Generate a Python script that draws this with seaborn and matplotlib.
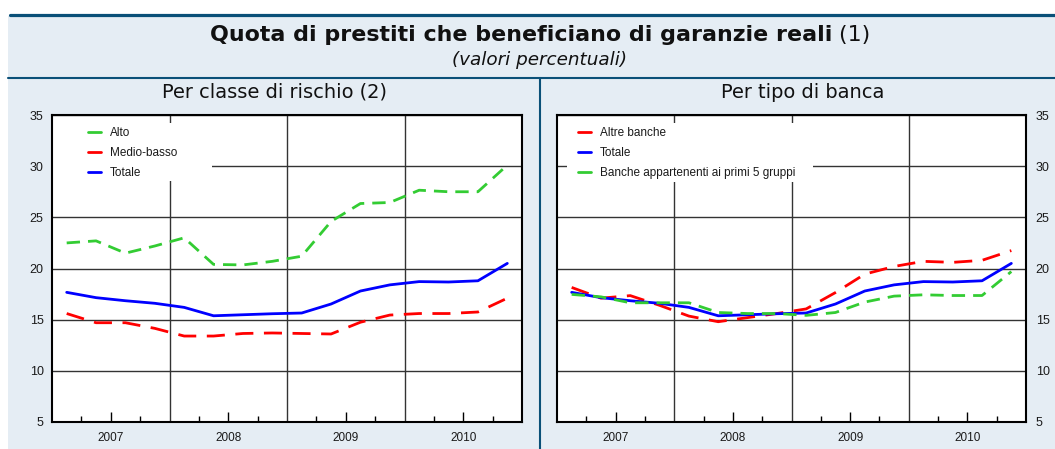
import numpy as np
import pandas as pd
import seaborn as sns
import matplotlib.pyplot as plt
from matplotlib.lines import Line2D
from matplotlib.patches import Rectangle

# Dati trimestrali 2007-2010 (valori percentuali)
trimestri = ['2007T1', '2007T2', '2007T3', '2007T4', '2008T1', '2008T2', '2008T3', '2008T4',
             '2009T1', '2009T2', '2009T3', '2009T4', '2010T1', '2010T2', '2010T3', '2010T4']
anni = ['2007', '2008', '2009', '2010']

alto = [22.5, 22.7, 21.5, 22.2, 23.0, 20.4, 20.35, 20.7, 21.2, 24.6, 26.35, 26.45, 27.65, 27.5, 27.5, 30.1]
medio_basso = [15.6, 14.7, 14.7, 14.15, 13.4, 13.4, 13.65, 13.7, 13.65, 13.6, 14.75, 15.45, 15.6, 15.6, 15.75, 17.1]
totale = [17.67, 17.15, 16.85, 16.6, 16.2, 15.38, 15.48, 15.58, 15.65, 16.53, 17.8, 18.4, 18.72, 18.68, 18.8, 20.5]
altre_banche = [18.15, 17.1, 17.35, 16.4, 15.35, 14.8, 15.2, 15.6, 16.05, 17.65, 19.45, 20.2, 20.7, 20.6, 20.8, 21.75]
primi_5 = [17.47, 17.23, 16.65, 16.65, 16.65, 15.7, 15.6, 15.6, 15.42, 15.7, 16.72, 17.3, 17.43, 17.36, 17.36, 19.7]

ROSSO = '#FF0000'
BLU = '#0000FF'
VERDE = '#33CC33'
SCURO = '#0A5078'
SFONDO = '#E5EDF4'

sns.set_theme(style='white')
plt.rcParams['font.family'] = ['Liberation Sans', 'DejaVu Sans']

W, H = 1055, 449
fig = plt.figure(figsize=(W / 100, H / 100), dpi=100, facecolor='white')

# cornice di sfondo e linee blu
fig.add_artist(Rectangle((8 / W, 0), 1 - 8 / W, 1 - 16 / H, transform=fig.transFigure,
                         fc=SFONDO, ec='none', zorder=-10))
fig.add_artist(Line2D([10 / W, 1], [1 - 14.5 / H] * 2, transform=fig.transFigure, color=SCURO, lw=2.3))
fig.add_artist(Line2D([8 / W, 1], [1 - 78 / H] * 2, transform=fig.transFigure, color=SCURO, lw=1.5))
fig.add_artist(Line2D([540 / W] * 2, [0, 1 - 78 / H], transform=fig.transFigure, color=SCURO, lw=1.5))

x = np.arange(len(trimestri)) + 0.5


def pannello(ax, serie, colori, tratti, lato):
    righe = []
    for nome, valori in serie.items():
        righe.append(pd.DataFrame({'x': x, 'valore': valori, 'serie': nome}))
    df = pd.concat(righe, ignore_index=True)
    sns.lineplot(data=df, x='x', y='valore', hue='serie', style='serie',
                 palette=colori, dashes=tratti, lw=2.0, legend=False, ax=ax, zorder=3)
    ax.set_facecolor('white')
    ax.set_xlim(0, 16)
    ax.set_ylim(5, 35)
    ax.set_yticks(range(5, 40, 5))
    ax.set_xticks([2, 6, 10, 14])
    ax.set_xticklabels(anni)
    ax.set_xticks([1, 3, 5, 7, 9, 11, 13, 15], minor=True)
    ax.set_xlabel('')
    ax.set_ylabel('')
    ax.grid(axis='y', color='#333333', lw=1.0)
    ax.grid(axis='x', visible=False)
    for xv in [4, 8, 12]:
        ax.axvline(xv, color='#333333', lw=1.0, zorder=0.5)
    ax.set_axisbelow(True)
    for s in ax.spines.values():
        s.set_color('black')
        s.set_linewidth(1.5)
        s.set_visible(True)
    ax.tick_params(axis='x', which='major', direction='in', length=7.5, width=1,
                   color='black', pad=7, labelsize=8.5, labelcolor='#1a1a1a')
    ax.tick_params(axis='x', which='minor', direction='in', length=4, width=1, color='black')
    ax.tick_params(axis='x', which='both', bottom=True, top=False)
    if lato == 'right':
        ax.yaxis.tick_right()
        ax.tick_params(axis='y', length=0, pad=7, labelsize=9, labelcolor='#1a1a1a')
    else:
        ax.tick_params(axis='y', length=0, pad=6, labelsize=9, labelcolor='#1a1a1a')


ax1 = fig.add_axes([52 / W, 1 - 422 / H, 470 / W, 307 / H])
ax2 = fig.add_axes([557 / W, 1 - 422 / H, 469 / W, 307 / H])

serie1 = {'Alto': alto, 'Medio-basso': medio_basso, 'Totale': totale}
colori1 = {'Alto': VERDE, 'Medio-basso': ROSSO, 'Totale': BLU}
tratti1 = {'Alto': (4.8, 2.9), 'Medio-basso': (6.5, 3.8), 'Totale': ''}
pannello(ax1, serie1, colori1, tratti1, 'left')

serie2 = {'Altre banche': altre_banche, 'Totale': totale,
          'Banche appartenenti ai primi 5 gruppi': primi_5}
colori2 = {'Altre banche': ROSSO, 'Totale': BLU, 'Banche appartenenti ai primi 5 gruppi': VERDE}
tratti2 = {'Altre banche': (6.5, 3.8), 'Totale': '', 'Banche appartenenti ai primi 5 gruppi': (4.8, 2.9)}
pannello(ax2, serie2, colori2, tratti2, 'right')

# legende su riquadro bianco
ax1.add_patch(Rectangle((0, 1 - 66 / 307), 160 / 470, 58 / 307, transform=ax1.transAxes,
                        fc='white', ec='none', zorder=1))
ax2.add_patch(Rectangle((10 / 469, 1 - 67 / 307), 246 / 469, 59 / 307, transform=ax2.transAxes,
                        fc='white', ec='none', zorder=1))


def legenda(ax, nomi, colori, xa):
    maniglie = [Line2D([], [], color=colori[n], lw=2.0) for n in nomi]
    leg = ax.legend(maniglie, nomi, loc='upper left', bbox_to_anchor=(xa, 1 - 12.5 / 307),
                    frameon=False, fontsize=8.5, handlelength=1.1, handletextpad=0.75,
                    labelspacing=0.66, borderpad=0, borderaxespad=0)
    for t in leg.get_texts():
        t.set_color('#1a1a1a')


legenda(ax1, list(serie1), colori1, 36 / 470)
legenda(ax2, list(serie2), colori2, 21 / 469)

# titoli (caratteri piu' larghi come nell'originale)
HEAD = ['DejaVu Sans']
fig.canvas.draw()
r = fig.canvas.get_renderer()


def adatta(t, larghezza):
    w = t.get_window_extent(r).width
    t.set_fontsize(t.get_fontsize() * larghezza / w)


p1 = fig.text(275 / W, 1 - 92 / H, 'Per classe di rischio (2)', ha='center', va='center',
              fontsize=12, color='#111111', family=HEAD)
p2 = fig.text(803 / W, 1 - 92 / H, 'Per tipo di banca', ha='center', va='center',
              fontsize=12, color='#111111', family=HEAD)
sub = fig.text(540 / W, 1 - 60 / H, '(valori percentuali)', ha='center', va='center',
               fontsize=11, style='italic', color='#111111', family=HEAD)
adatta(p1, 224)
adatta(p2, 162)
adatta(sub, 175)
p2.set_fontsize(p1.get_fontsize())

t_bold = fig.text(0, 1 - 35 / H, 'Quota di prestiti che beneficiano di garanzie reali',
                  ha='left', va='center', fontsize=15, fontweight='bold', color='#111111', family=HEAD)
t_reg = fig.text(0, 1 - 35 / H, ' (1)', ha='left', va='center', fontsize=15, color='#111111',
                 family=HEAD)
wb = t_bold.get_window_extent(r).width
wr = t_reg.get_window_extent(r).width
k = 660 / (wb + wr)
t_bold.set_fontsize(15 * k)
t_reg.set_fontsize(15 * k)
wb = t_bold.get_window_extent(r).width
wr = t_reg.get_window_extent(r).width
x0 = 540 - (wb + wr) / 2
t_bold.set_x(x0 / W)
t_reg.set_x((x0 + wb) / W)

fig.savefig('out.png', dpi=100, facecolor='white')
